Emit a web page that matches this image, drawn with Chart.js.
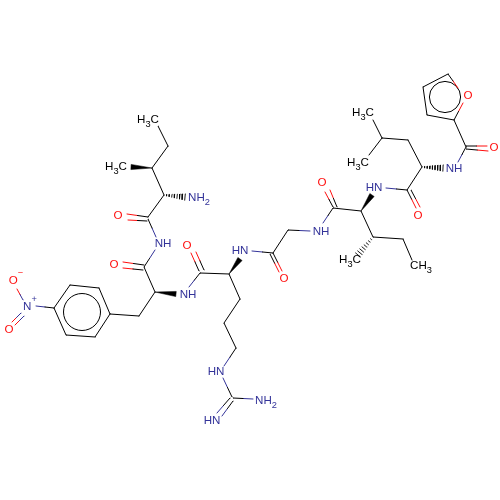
<!DOCTYPE html>
<html>
<head>
<meta charset="utf-8">
<script src="https://cdn.jsdelivr.net/npm/chart.js@4"></script>
<style>html,body{margin:0;padding:0;background:#fff}canvas{display:block}</style>
</head>
<body>
<canvas id="c" width="500" height="500"></canvas>
<script>
// Bonds: x1,y1,x2,y2
const carbonBonds = [
 [158,126,168,146],[168,146,152,168],[152,168,164,195],[164,195,148,217],
 [144,267,155,292],[155,292,139,316],[139,316,110,314],
 [110,314,99,288],[99,288,70,285],[70,285,54,308],[54,308,66,335],[66,335,95,337],[95,337,110,314],
 [200,273,229,274],[229,274,240,299],[240,299,224,323],[224,323,236,348],
 [288,230,273,253],[333,208,361,211],[361,211,373,237],[373,237,403,239],[403,239,412,260],
 [407,190,422,167],[422,167,408,140],[408,140,382,138],[382,138,373,120],[382,138,369,155],
 [466,147,454,120],[454,120,427,115],[427,115,423,87],[423,87,448,74]
];
const oxygenBonds = [
 [148,217,127,214],[147,221,128,220],[144,265,123,262],[143,270,123,268],
 [199,271,191,253],[204,270,196,252],[273,253,282,271],[270,254,279,272],
 [333,207,325,192],[337,207,330,190],[407,190,416,208],[411,190,420,207],
 [466,146,487,146],[466,149,488,151],[454,120,463,103],[448,74,458,88]
];
const nitrogenBonds = [
 [148,219,156,237],[144,267,155,250],[200,273,189,287],[273,253,252,251],
 [288,230,310,231],[333,208,323,223],[407,190,386,188],[466,147,458,162],
 [236,348,224,366],[232,397,223,378],[233,398,253,399],[230,398,217,413],[233,401,222,416],
 [54,308,36,306]
];
const nitroBonds = [[23,300,17,289],[21,313,12,322],[24,316,15,325]];
const wedgeBonds = [[152,168,131,167],[155,292,176,294],[229,274,240,259],[361,211,372,195]];
const hashBonds = [[164,195,185,197],[422,167,443,168],[373,237,358,255]];
const ringCentres = [[82,312,18.5],[445,97,15.6]];
// Atom labels: "_" subscript, "^" superscript
const labelText = ["H_3C","H_3C","NH_2","O","NH","O","NH","O","HN","O","NH","O","HN","O","NH","O","O","H_3C","H_3C","H_3C","CH_3","HN","NH_2","HN","N^+","O^\u2212","O"];
const labelX = [148,116,199,118,163,114,188,187,240,284,321,322,374,418,454,494,468,363,358,350,421,216,266,212,30,16,9];
const labelY = [120,167,198,216,244,265,295,246,251,279,232,183,188,216,169,148,96,113,163,260,266,372,401,421,307,281,330];
const labelKind = ["c","c","n","o","n","o","n","o","n","o","n","o","n","o","n","o","o","c","c","c","c","n","n","n","n","o","o"];

const BLACK="#000000", BLUE="#333399", RED="#ff0d0d";
const inkOf={c:BLACK,n:BLUE,o:RED};
const FONT='"Liberation Sans"', SIZE=11.6;

function gap(a){a.push({x:NaN,y:NaN});}
const blackPts=[],bluePts=[],redPts=[];
function add(list,x1,y1,x2,y2){list.push({x:x1,y:y1},{x:x2,y:y2});gap(list);}
carbonBonds.forEach(b=>add(blackPts,...b));
function two(arr,a,c,t){arr.forEach(([x1,y1,x2,y2])=>{
  const mx=x1+(x2-x1)*t,my=y1+(y2-y1)*t;
  add(a,x1,y1,mx,my);add(c,mx,my,x2,y2);});}
two(oxygenBonds,blackPts,redPts,0.5);
two(nitrogenBonds,blackPts,bluePts,0.5);
two(nitroBonds,bluePts,redPts,0.5);

const hashPts=[];
hashBonds.forEach(([x1,y1,x2,y2])=>{
  const dx=x2-x1,dy=y2-y1,l=Math.hypot(dx,dy),nx=-dy/l,ny=dx/l,n=8;
  for(let i=1;i<=n;i++){const t=i/n,w=0.4+2.8*t,px=x1+dx*t,py=y1+dy*t;
    hashPts.push({x:px-nx*w,y:py-ny*w},{x:px+nx*w,y:py+ny*w});gap(hashPts);}
});

const line=(data,color,w)=>({data,showLine:true,borderColor:color,borderWidth:w,pointRadius:0,tension:0,spanGaps:false,fill:false,clip:false,borderCapStyle:'round'});
const datasets=[line(blackPts,BLACK,1),line(bluePts,BLUE,1),line(redPts,RED,1),line(hashPts,BLACK,0.9)];
wedgeBonds.forEach(([x1,y1,x2,y2])=>{
  const dx=x2-x1,dy=y2-y1,l=Math.hypot(dx,dy),nx=-dy/l*2.6,ny=dx/l*2.6;
  datasets.push({data:[{x:x1,y:y1},{x:x2+nx,y:y2+ny},{x:x2-nx,y:y2-ny},{x:x1,y:y1}],showLine:true,fill:'shape',backgroundColor:BLACK,borderColor:BLACK,borderWidth:0.5,pointRadius:0,tension:0,clip:false});
});
datasets.push({data:ringCentres.map(r=>({x:r[0],y:r[1]})),pointRadius:ringCentres.map(r=>r[2]),pointBackgroundColor:'rgba(0,0,0,0)',pointBorderColor:BLACK,pointBorderWidth:1,showLine:false,clip:false});

const atomLabels={id:'atomLabels',afterDatasetsDraw(chart){
  const {ctx,scales:{x,y}}=chart;ctx.save();ctx.textBaseline='middle';ctx.textAlign='left';
  labelText.forEach((s,i)=>{
    const parts=[];for(let k=0;k<s.length;k++){
      if(s[k]==='_'){parts.push([s[++k],1]);}else if(s[k]==='^'){parts.push([s[++k],-1]);}else parts.push([s[k],0]);}
    const big=SIZE+'px '+FONT,small=(SIZE*0.8)+'px '+FONT;
    let w=0,widths=parts.map(p=>{ctx.font=p[1]?small:big;const m=ctx.measureText(p[0]).width;w+=m;return m;});
    let px=x.getPixelForValue(labelX[i])-w/2;const py=y.getPixelForValue(labelY[i]);
    parts.forEach((p,j)=>{ctx.font=p[1]?small:big;
      ctx.fillStyle=inkOf[labelKind[i]];
      ctx.fillText(p[0],px,py+(p[1]===1?4:p[1]===-1?-8:0));px+=widths[j];});
  });
  ctx.restore();
}};

new Chart(document.getElementById('c'),{
  type:'scatter',
  data:{datasets},
  plugins:[atomLabels],
  options:{responsive:false,animation:false,devicePixelRatio:1,layout:{padding:0,autoPadding:false},
    plugins:{legend:{display:false},tooltip:{enabled:false},title:{display:false}},
    scales:{x:{type:'linear',min:0,max:500,display:false},y:{type:'linear',min:0,max:500,reverse:true,display:false}}}
});
</script>
</body>
</html>
